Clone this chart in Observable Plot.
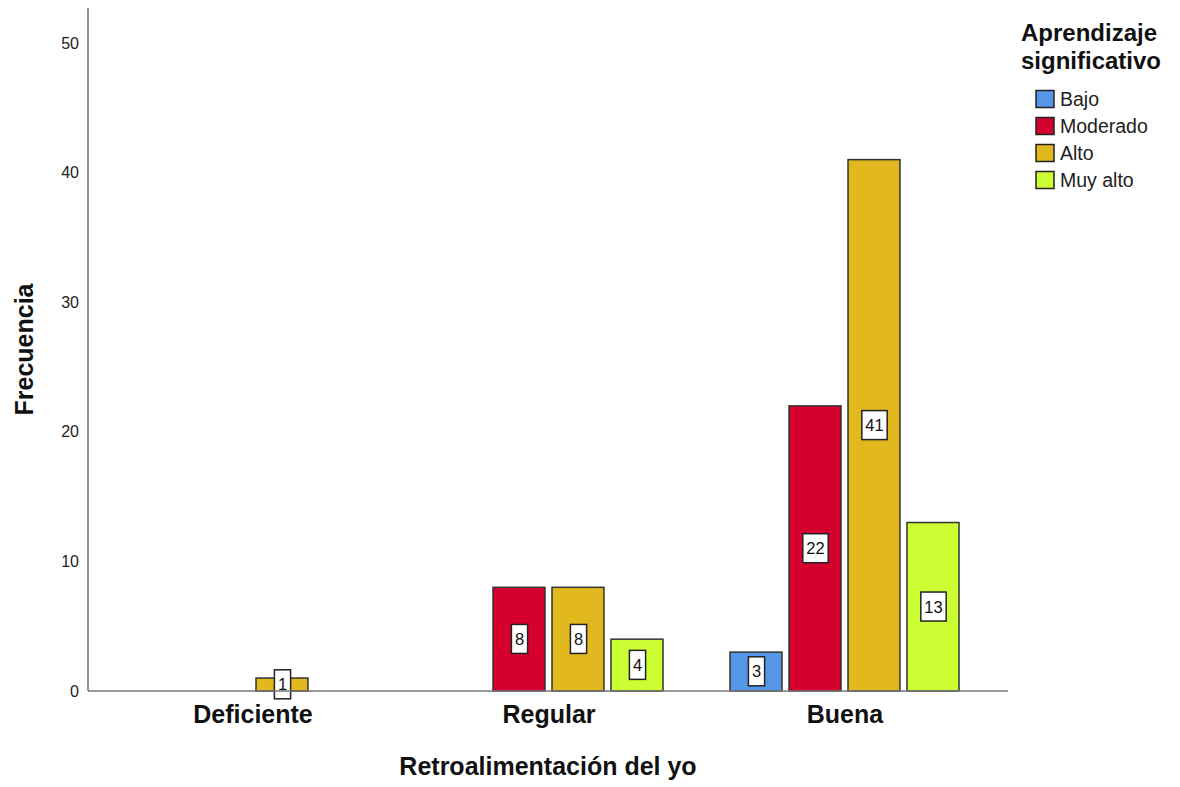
<!DOCTYPE html>
<html>
<head>
<meta charset="utf-8">
<script src="https://cdn.jsdelivr.net/npm/d3@7"></script>
<script src="https://cdn.jsdelivr.net/npm/@observablehq/plot@0.6"></script>
<style>
  html, body { margin: 0; padding: 0; background: #fff; overflow: hidden; }
  #chart svg { display: block; }
  #chart [aria-label^="fx-axis"] text { font-size: 25px; font-weight: bold; fill: #111; }
</style>
</head>
<body>
<div id="chart"></div>
<script>
// Categories of "Retroalimentación del yo" and levels of "Aprendizaje significativo"
const categories = ["Deficiente", "Regular", "Buena"];
const levels = ["Bajo", "Moderado", "Alto", "Muy alto"];
const levelColors = ["#5596e6", "#d6002f", "#e1b91f", "#ccff33"];

// Frequencies per level, in the order of `categories`
const bajo = [0, 0, 3];
const moderado = [0, 8, 22];
const alto = [1, 8, 41];
const muyAlto = [0, 4, 13];

const yTicks = [0, 10, 20, 30, 40, 50];
const xTitle = "Retroalimentación del yo";
const yTitle = "Frecuencia";
const legendTitle = ["Aprendizaje", "significativo"];

const series = [bajo, moderado, alto, muyAlto];
const rows = categories.flatMap((c, i) =>
  levels.map((l, j) => ({categoria: c, nivel: l, n: series[j][i]}))
).filter(d => d.n > 0);

const W = 1180, H = 787;
const mL = 88, mR = 172, mT = 8, mB = 96;
const font = "'Liberation Sans', Arial, sans-serif";

const chart = Plot.plot({
  width: W,
  height: H,
  marginLeft: mL,
  marginRight: mR,
  marginTop: mT,
  marginBottom: mB,
  style: {fontFamily: font, fontSize: "16px", background: "white", color: "#222"},
  facet: {data: rows, x: "categoria"},
  fx: {domain: categories, paddingInner: 0.2, paddingOuter: 0.15, label: null, tickSize: 0, tickPadding: 14},
  x: {domain: levels, paddingInner: 0.12, paddingOuter: 0.068, axis: null},
  y: {domain: [0, 52.7], axis: null},
  color: {domain: levels, range: levelColors},
  marks: [
    Plot.barY(rows, {x: "nivel", y: "n", fill: "nivel", stroke: "#333", strokeWidth: 1.5}),
    Plot.text(rows, {x: "nivel", y: d => d.n / 2, text: d => String(d.n), fontSize: 16.5, fill: "#111"})
  ]
});

document.getElementById("chart").append(chart);

const svg = d3.select(chart.tagName.toLowerCase() === "svg" ? chart : chart.querySelector("svg"));
const yScale = chart.scale("y");
const y0 = yScale.apply(0);
const yTop = Math.min(...yScale.range);
const yBot = Math.max(...yScale.range);

// White boxes behind the value labels
svg.selectAll('g[aria-label="text"] text').each(function() {
  const bb = this.getBBox();
  const padX = 3.5, padY = 5.5;
  const rect = document.createElementNS("http://www.w3.org/2000/svg", "rect");
  rect.setAttribute("x", bb.x - padX);
  rect.setAttribute("y", bb.y - padY);
  rect.setAttribute("width", bb.width + 2 * padX);
  rect.setAttribute("height", bb.height + 2 * padY);
  rect.setAttribute("fill", "white");
  rect.setAttribute("stroke", "#222");
  rect.setAttribute("stroke-width", 1.5);
  const t = this.getAttribute("transform");
  if (t) rect.setAttribute("transform", t);
  this.parentNode.insertBefore(rect, this);
});

// Y tick labels placed with the y scale
svg.append("g")
  .attr("font-family", font).attr("font-size", 16).attr("fill", "#222")
  .attr("text-anchor", "end")
  .selectAll("text").data(yTicks).join("text")
  .attr("x", mL - 9).attr("y", d => yScale.apply(d)).attr("dy", "0.35em")
  .text(d => d);

// Axis lines: left spine and baseline
svg.append("line")
  .attr("x1", mL).attr("x2", mL).attr("y1", yTop).attr("y2", yBot)
  .attr("stroke", "#888").attr("stroke-width", 1.8);
svg.append("line")
  .attr("x1", mL).attr("x2", W - mR).attr("y1", y0).attr("y2", y0)
  .attr("stroke", "#777").attr("stroke-width", 1.6);

// Axis titles
svg.append("text")
  .attr("x", (mL + W - mR) / 2).attr("y", 775)
  .attr("text-anchor", "middle")
  .attr("font-family", font).attr("font-size", 25).attr("font-weight", "bold").attr("fill", "#111")
  .text(xTitle);
svg.append("text")
  .attr("transform", `translate(33,${(yTop + yBot) / 2}) rotate(-90)`)
  .attr("text-anchor", "middle")
  .attr("font-family", font).attr("font-size", 25).attr("font-weight", "bold").attr("fill", "#111")
  .text(yTitle);

// Legend: two-line title, then swatches
const lg = svg.append("g").attr("font-family", font).attr("text-anchor", "start");
lg.selectAll("text.title").data(legendTitle).join("text")
  .attr("class", "title")
  .attr("x", 1021).attr("y", (d, i) => 41 + i * 28)
  .attr("font-size", 24).attr("font-weight", "bold").attr("fill", "#111")
  .text(d => d);
const item = lg.selectAll("g.item").data(levels).join("g")
  .attr("class", "item")
  .attr("transform", (d, i) => `translate(1036,${99 + i * 27})`);
item.append("rect")
  .attr("x", 0).attr("y", -8.5).attr("width", 18).attr("height", 17)
  .attr("fill", (d, i) => levelColors[i]).attr("stroke", "#222").attr("stroke-width", 1.5);
item.append("text")
  .attr("x", 24).attr("y", 0).attr("dy", "0.36em")
  .attr("font-size", 19.5).attr("fill", "#222")
  .text(d => d);
</script>
</body>
</html>
